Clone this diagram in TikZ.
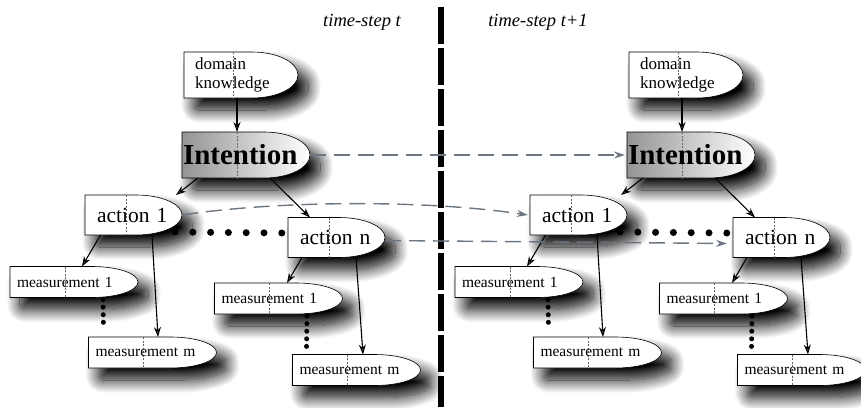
\documentclass[tikz,border=0pt]{standalone}
\usepackage{fontspec}
\setmainfont{Liberation Serif}
\usetikzlibrary{calc,arrows.meta,shadows.blur}
\pgfdeclarelayer{background}
\pgfsetlayers{background,main}
\definecolor{linkgray}{RGB}{108,118,128}

\tikzset{
  kbox/.style={rectangle, inner ysep=0pt, outer sep=0pt, align=left},
  act/.style={kbox, minimum height=40pt, inner xsep=12pt, text width=73pt, font=\fontsize{21.5}{24}\selectfont},
  meas/.style={kbox, minimum height=31pt, inner xsep=7pt, text width=114pt, font=\fontsize{15.5}{17}\selectfont},
  intent/.style={kbox, minimum height=46pt, inner xsep=1pt, text width=126pt, font=\fontsize{29}{32}\selectfont\bfseries},
  know/.style={kbox, minimum height=46pt, inner xsep=11pt, text width=92pt, font=\fontsize{17}{19}\selectfont},
  boxshade/.style={blur shadow={shadow xshift=10pt, shadow yshift=-12pt, shadow blur radius=13pt, shadow blur steps=16, shadow opacity=100, shadow blur extra rounding=4pt}},
  link/.style={-{Stealth[length=10pt,width=7pt]}, line width=1.1pt},
  timelink/.style={-{Stealth[length=11pt,width=7pt]}, line width=1.4pt, draw=linkgray, dash pattern=on 16pt off 8pt},
  bigdots/.style={line width=7pt, line cap=round, dash pattern=on 0pt off 17.8pt},
  smalldots/.style={line width=5pt, line cap=round, dash pattern=on 0pt off 7.6pt},
  sepline/.style={line width=5.5pt, dash pattern=on 36.5pt off 4.5pt},
  steplabel/.style={font=\fontsize{18.5}{20}\selectfont\itshape},
  intentfill/.style={left color=black!42, right color=white},
}

% outline of a knowledge box: flat left side, elliptic right end
\newcommand\kshape[2][fill=white]{%
  \begin{pgfonlayer}{background}
  \path[boxshade,draw,line width=0.6pt,#1] let \p1=(#2.north east), \p2=(#2.south west), \n1={(\y1-\y2)/2} in
    (\x2,\y1) -- (\x1-46pt,\y1) arc[start angle=90,end angle=-90,x radius=46pt,y radius=\n1] -- (\x2,\y2) -- cycle;
  \draw[dash pattern=on 2pt off 1.5pt, line width=0.5pt, black!60]
    ($(#2.north west)!0.43!(#2.north east)$) -- ($(#2.south west)!0.43!(#2.south east)$);
  \end{pgfonlayer}}

\begin{document}
\begin{tikzpicture}[x=1pt,y=1pt]
\useasboundingbox (0,0) rectangle (861,-407);

% time-step t
\node[know] (L-dk) at (241,-75) {domain\\knowledge};
\node[intent] (L-int) at (246,-155) {Intention};
\node[act] (L-a1) at (133.5,-215) {action 1};
\node[act] (L-an) at (336.5,-237.5) {action n};
\node[meas] (L-m1) at (74,-282) {measurement 1};
\node[meas] (L-mm) at (152.5,-352.5) {measurement m};
\node[meas] (L-m1n) at (278.5,-298.5) {measurement 1};
\node[meas] (L-mmn) at (356.5,-370) {measurement m};

% time-step t+1
\node[know] (R-dk) at (686,-75) {domain\\knowledge};
\node[intent] (R-int) at (691,-155) {Intention};
\node[act] (R-a1) at (578.5,-215) {action 1};
\node[act] (R-an) at (781.5,-237.5) {action n};
\node[meas] (R-m1) at (519,-282) {measurement 1};
\node[meas] (R-mm) at (597.5,-352.5) {measurement m};
\node[meas] (R-m1n) at (723.5,-298.5) {measurement 1};
\node[meas] (R-mmn) at (801.5,-370) {measurement m};

\kshape{L-dk}
\kshape[intentfill]{L-int}
\kshape{L-a1}
\kshape{L-m1}
\kshape{L-mm}
\kshape{L-an}
\kshape{L-m1n}
\kshape{L-mmn}
\kshape{R-dk}
\kshape[intentfill]{R-int}
\kshape{R-a1}
\kshape{R-m1}
\kshape{R-mm}
\kshape{R-an}
\kshape{R-m1n}
\kshape{R-mmn}

\node[steplabel] (tL) at (362,-22.5) {time-step t};
\node[steplabel] (tR) at (538,-22.5) {time-step t+1};
\draw[sepline] (441,-7) -- (441,-407);

% links inside a time-step
\draw[link] ([xshift=-4pt]L-dk.south) -- ([xshift=-9pt]L-int.north);
\draw[link] ([xshift=-48pt]L-int.south) -- ([xshift=-6pt]L-a1.north east);
\draw[link] ([xshift=24pt]L-int.south) -- ([xshift=22pt]L-an.north west);
\draw[link] ([xshift=-33pt]L-a1.south) -- ([xshift=8pt]L-m1.north);
\draw[link] ([xshift=18.5pt]L-a1.south) -- ([xshift=5.5pt]L-mm.north);
\draw[link] ([xshift=-34.5pt]L-an.south) -- ([xshift=8.5pt]L-m1n.north);
\draw[link] ([xshift=19.5pt]L-an.south) -- ([xshift=6.5pt]L-mmn.north);
\draw[bigdots] ([xshift=-7pt,yshift=3pt]L-a1.south east) -- ([xshift=-6pt,yshift=4.5pt]L-an.west);
\draw[smalldots] ([xshift=29pt,yshift=-2pt]L-m1.south) -- ([xshift=15pt,yshift=8pt]L-mm.north west);
\draw[smalldots] ([xshift=28.5pt,yshift=-2pt]L-m1n.south) -- ([xshift=14pt,yshift=7pt]L-mmn.north west);

\draw[link] ([xshift=-4pt]R-dk.south) -- ([xshift=-9pt]R-int.north);
\draw[link] ([xshift=-48pt]R-int.south) -- ([xshift=-6pt]R-a1.north east);
\draw[link] ([xshift=24pt]R-int.south) -- ([xshift=22pt]R-an.north west);
\draw[link] ([xshift=-33pt]R-a1.south) -- ([xshift=8pt]R-m1.north);
\draw[link] ([xshift=18.5pt]R-a1.south) -- ([xshift=5.5pt]R-mm.north);
\draw[link] ([xshift=-34.5pt]R-an.south) -- ([xshift=8.5pt]R-m1n.north);
\draw[link] ([xshift=19.5pt]R-an.south) -- ([xshift=6.5pt]R-mmn.north);
\draw[bigdots] ([xshift=-7pt,yshift=3pt]R-a1.south east) -- ([xshift=-6pt,yshift=4.5pt]R-an.west);
\draw[smalldots] ([xshift=29pt,yshift=-2pt]R-m1.south) -- ([xshift=15pt,yshift=8pt]R-mm.north west);
\draw[smalldots] ([xshift=28.5pt,yshift=-2pt]R-m1n.south) -- ([xshift=14pt,yshift=7pt]R-mmn.north west);

% links between the time-steps
\draw[timelink] (L-int.east) -- ([xshift=-2pt]R-int.west);
\draw[timelink] (L-a1.east) .. controls +(100,15) and +(-100,15) .. ([xshift=-2pt]R-a1.west);
\draw[timelink] ([yshift=-3pt]L-an.east) .. controls +(110,-1) and +(-110,1) .. ([xshift=-6pt,yshift=-6pt]R-an.west);
\end{tikzpicture}
\end{document}
